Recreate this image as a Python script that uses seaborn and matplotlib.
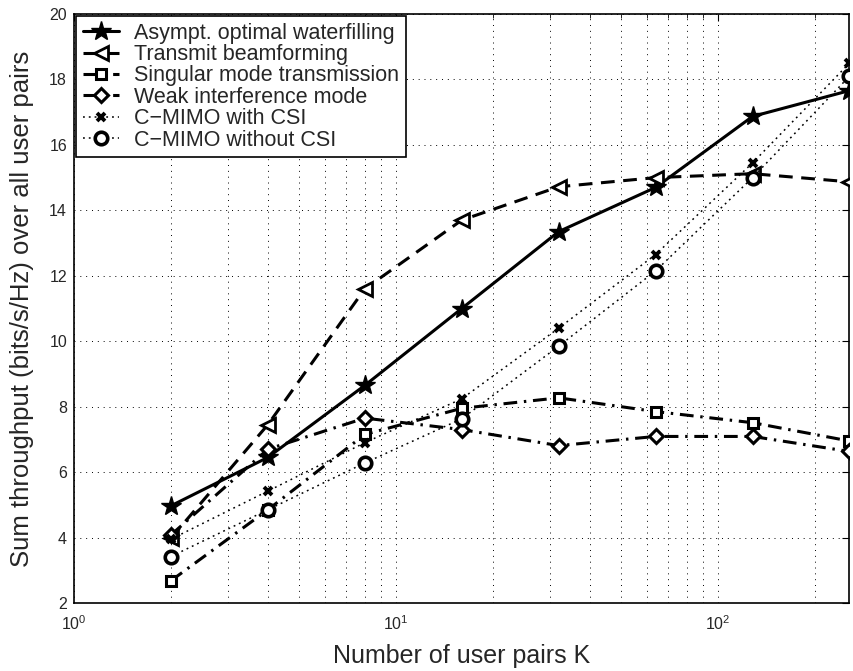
import matplotlib
matplotlib.use("Agg")
import matplotlib.pyplot as plt
import seaborn as sns
import numpy as np
import pandas as pd
from matplotlib.ticker import LogLocator, NullFormatter

K = [2, 4, 8, 16, 32, 64, 128, 256]
waterfilling = [4.97, 6.45, 8.65, 11.0, 13.35, 14.7, 16.87, 17.66]
beamforming = [3.98, 7.45, 11.6, 13.7, 14.72, 15.0, 15.12, 14.87]
singular = [2.68, 4.85, 7.15, 7.95, 8.27, 7.85, 7.51, 6.95]
weak = [4.08, 6.7, 7.65, 7.3, 6.81, 7.09, 7.09, 6.63]
cmimo_csi = [3.95, 5.42, 6.9, 8.24, 10.4, 12.65, 15.45, 18.5]
cmimo_nocsi = [3.42, 4.85, 6.28, 7.63, 9.85, 12.15, 15.0, 18.1]

labels = ["Asympt. optimal waterfilling", "Transmit beamforming",
          "Singular mode transmission", "Weak interference mode",
          "C\u2212MIMO with CSI", "C\u2212MIMO without CSI"]
series = [waterfilling, beamforming, singular, weak, cmimo_csi, cmimo_nocsi]

sns.set_style("white")
plt.rcParams['font.family'] = ['Liberation Sans', 'DejaVu Sans']
plt.rcParams['mathtext.fontset'] = 'custom'
plt.rcParams['mathtext.rm'] = 'Liberation Sans'
plt.rcParams['mathtext.it'] = 'Liberation Sans'
plt.rcParams['legend.numpoints'] = 1

fig = plt.figure(figsize=(8.54, 6.71), dpi=100)
ax = fig.add_axes([74/854, 68/671, 775.5/854, 589/671])

dashed = (0, (4.5, 2.8))
dashdot = (0, (4.5, 2.2, 0.8, 2.2))
dotted = (0, (1.2, 2.6))
styles = [
    dict(marker='*', linestyle='-', linewidth=2.2, markersize=15, markerfacecolor='black', markeredgewidth=1),
    dict(marker='<', linestyle=dashed, linewidth=2.2, markersize=10, markerfacecolor='white', markeredgewidth=2),
    dict(marker='s', linestyle=dashdot, linewidth=2.2, markersize=7.5, markerfacecolor='white', markeredgewidth=2.2),
    dict(marker='D', linestyle=dashdot, linewidth=2.2, markersize=7.5, markerfacecolor='white', markeredgewidth=2.2),
    dict(marker='x', linestyle=dotted, linewidth=1.1, markersize=6, markeredgewidth=2.8),
    dict(marker='o', linestyle=dotted, linewidth=1.1, markersize=9, markerfacecolor='white', markeredgewidth=2.6),
]

for lab, vals, st in zip(labels, series, styles):
    df = pd.DataFrame({"K": K, "T": vals})
    sns.lineplot(data=df, x="K", y="T", ax=ax, color='black', markeredgecolor='black',
                 label=lab, zorder=3, **st)

ax.set_xscale('log')
ax.set_xlim(1, 256)
ax.set_ylim(2, 20)
ax.set_yticks(np.arange(2, 21, 2))
ax.xaxis.set_major_locator(LogLocator(base=10, numticks=10))
ax.xaxis.set_minor_locator(LogLocator(base=10, subs=np.arange(2, 10), numticks=20))
ax.xaxis.set_minor_formatter(NullFormatter())
gridstyle = dict(linestyle=(0, (1, 5)), color='black', linewidth=0.7)
ax.grid(True, which='major', **gridstyle)
ax.grid(True, which='minor', axis='x', **gridstyle)
ax.tick_params(direction='in', which='both', top=True, right=True, labelsize=11.5, color='black')
ax.tick_params(which='major', length=5)
ax.tick_params(which='minor', length=3)
ax.tick_params(axis='x', which='major', pad=8)
ax.tick_params(axis='y', which='major', pad=5)
for s in ax.spines.values():
    s.set_color('black')
    s.set_linewidth(1.2)

ax.set_xlabel("Number of user pairs K", fontsize=18, labelpad=8)
ax.set_ylabel("Sum throughput (bits/s/Hz) over all user pairs", fontsize=18.5, labelpad=11)

leg = ax.legend(loc='upper left', fontsize=15.5, frameon=True, fancybox=False,
                edgecolor='black', borderaxespad=0.1, handlelength=1.7,
                labelspacing=0.02, borderpad=0.3, handletextpad=0.7)
leg.get_frame().set_linewidth(1.2)
leg.get_frame().set_alpha(1)

fig.savefig("out.png", dpi=100)
